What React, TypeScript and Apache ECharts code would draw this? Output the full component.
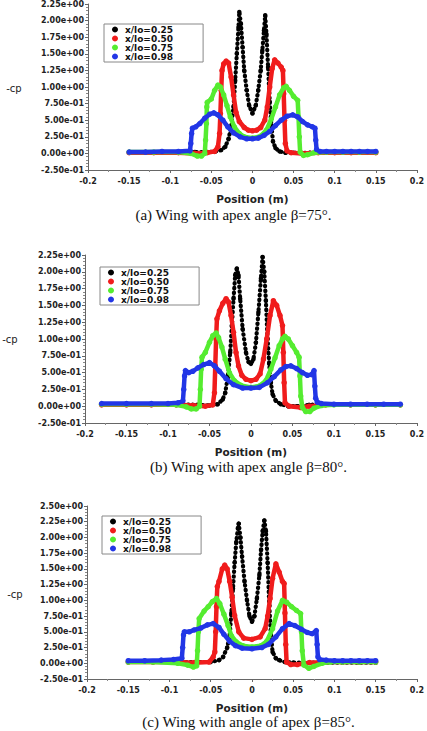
import React, { useEffect, useRef } from "react";
import * as echarts from "echarts";

const SERIES_NAMES = ["x/lo=0.25", "x/lo=0.50", "x/lo=0.75", "x/lo=0.98"];
const COLORS = ["#000000", "#f01c1c", "#55ec30", "#2236e6"];

const X_TICKS = ["-0.2", "-0.15", "-0.1", "-0.05", "0", "0.05", "0.1", "0.15", "0.2"];
const Y_TICKS_AB = ["-2.50e-01", "0.00e+00", "2.50e-01", "5.00e-01", "7.50e-01", "1.00e+00", "1.25e+00", "1.50e+00", "1.75e+00", "2.00e+00", "2.25e+00"];
const Y_TICKS_C = [...Y_TICKS_AB, "2.50e+00"];

const CAPTIONS = [
  "(a) Wing with apex angle β=75°.",
  "(b) Wing with apex angle β=80°.",
  "(c) Wing with angle of apex β=85°.",
];
const X_NAME = "Position (m)";
const Y_NAME = "-cp";

// Panel (a) β=75°
const A_025 = [[-0.15,0.02],[-0.13,0.02],[-0.11,0.02],[-0.09,0.02],[-0.07,0.02],[-0.055,0.02],[-0.045,0.03],[-0.038,0.05],[-0.033,0.1],[-0.029,0.22],[-0.026,0.4],[-0.023,0.7],[-0.021,1.1],[-0.019,1.5],[-0.017,1.9],[-0.016,2.13],[-0.014,1.95],[-0.012,1.6],[-0.01,1.25],[-0.007,0.95],[-0.004,0.72],[0,0.6],[0.004,0.72],[0.007,0.95],[0.01,1.25],[0.012,1.55],[0.014,1.85],[0.0155,2.08],[0.017,1.8],[0.019,1.3],[0.021,0.78],[0.023,0.42],[0.025,0.18],[0.028,0.08],[0.033,0.03],[0.04,0.01],[0.05,0.01],[0.07,0.01],[0.09,0.01],[0.11,0.01],[0.13,0.01],[0.15,0.01]];
const A_050 = [[-0.15,0.01],[-0.12,0.01],[-0.09,0.01],[-0.07,0.0],[-0.055,0.01],[-0.046,0.03],[-0.042,0.1],[-0.04,0.3],[-0.039,0.6],[-0.038,0.95],[-0.037,1.25],[-0.035,1.35],[-0.032,1.39],[-0.029,1.36],[-0.026,1.15],[-0.023,0.88],[-0.02,0.62],[-0.016,0.48],[-0.01,0.39],[-0.005,0.35],[0,0.34],[0.005,0.35],[0.01,0.39],[0.015,0.5],[0.018,0.7],[0.021,1.0],[0.024,1.28],[0.027,1.41],[0.031,1.36],[0.035,1.3],[0.037,1.25],[0.038,0.9],[0.039,0.5],[0.04,0.15],[0.042,0.04],[0.047,0.01],[0.06,0.0],[0.08,0.01],[0.1,0.01],[0.12,0.01],[0.15,0.01]];
const A_075 = [[-0.15,0.02],[-0.12,0.02],[-0.09,0.02],[-0.075,0.0],[-0.067,-0.04],[-0.062,-0.04],[-0.058,0.0],[-0.057,0.2],[-0.056,0.45],[-0.0555,0.7],[-0.055,0.77],[-0.05,0.82],[-0.046,0.95],[-0.042,1.03],[-0.039,1.0],[-0.035,0.88],[-0.031,0.72],[-0.027,0.55],[-0.022,0.4],[-0.016,0.3],[-0.01,0.25],[0,0.23],[0.01,0.26],[0.017,0.35],[0.023,0.52],[0.028,0.7],[0.033,0.88],[0.038,0.99],[0.041,1.01],[0.045,0.95],[0.05,0.86],[0.055,0.8],[0.056,0.55],[0.057,0.25],[0.058,0.02],[0.062,-0.03],[0.067,-0.02],[0.075,0.01],[0.09,0.02],[0.11,0.02],[0.13,0.02],[0.15,0.02]];
const A_098 = [[-0.15,0.02],[-0.13,0.02],[-0.11,0.03],[-0.09,0.03],[-0.076,0.04],[-0.075,0.15],[-0.074,0.3],[-0.073,0.38],[-0.069,0.4],[-0.064,0.45],[-0.058,0.53],[-0.052,0.59],[-0.047,0.61],[-0.042,0.58],[-0.036,0.5],[-0.03,0.4],[-0.023,0.31],[-0.015,0.25],[-0.007,0.22],[0,0.22],[0.007,0.23],[0.014,0.27],[0.021,0.33],[0.028,0.42],[0.035,0.5],[0.042,0.56],[0.049,0.58],[0.055,0.55],[0.061,0.48],[0.067,0.43],[0.073,0.4],[0.076,0.38],[0.077,0.2],[0.078,0.06],[0.082,0.03],[0.09,0.03],[0.1,0.03],[0.11,0.03],[0.12,0.03],[0.13,0.03],[0.14,0.03],[0.15,0.03]];

// Panel (b) β=80°
const B_025 = [[-0.18,0.03],[-0.15,0.03],[-0.12,0.03],[-0.09,0.03],[-0.065,0.02],[-0.05,0.01],[-0.04,0.03],[-0.034,0.1],[-0.031,0.2],[-0.028,0.43],[-0.025,0.8],[-0.023,1.2],[-0.021,1.6],[-0.019,1.95],[-0.017,2.05],[-0.015,1.95],[-0.013,1.6],[-0.01,1.15],[-0.006,0.8],[-0.003,0.66],[0,0.63],[0.003,0.7],[0.006,0.95],[0.009,1.4],[0.012,1.9],[0.014,2.22],[0.016,2.0],[0.018,1.57],[0.02,1.0],[0.022,0.63],[0.024,0.35],[0.026,0.18],[0.03,0.08],[0.036,0.03],[0.045,0.0],[0.055,0.0],[0.07,0.02],[0.09,0.03],[0.11,0.03],[0.13,0.03],[0.15,0.03],[0.18,0.03]];
const B_050 = [[-0.18,0.02],[-0.15,0.02],[-0.12,0.02],[-0.09,0.02],[-0.07,0.01],[-0.055,0.0],[-0.046,0.02],[-0.044,0.2],[-0.043,0.6],[-0.042,1.0],[-0.041,1.3],[-0.038,1.42],[-0.034,1.53],[-0.03,1.6],[-0.027,1.55],[-0.024,1.35],[-0.021,1.1],[-0.018,0.8],[-0.015,0.6],[-0.011,0.46],[-0.006,0.4],[0,0.38],[0.006,0.4],[0.011,0.48],[0.015,0.7],[0.019,1.0],[0.023,1.35],[0.027,1.57],[0.031,1.5],[0.035,1.35],[0.038,1.2],[0.039,0.8],[0.04,0.35],[0.041,0.05],[0.046,0.0],[0.06,-0.02],[0.07,0.0],[0.09,0.02],[0.12,0.02],[0.15,0.02],[0.18,0.02]];
const B_075 = [[-0.18,0.03],[-0.15,0.03],[-0.12,0.03],[-0.09,0.02],[-0.078,-0.01],[-0.072,-0.04],[-0.066,-0.04],[-0.062,0.0],[-0.061,0.25],[-0.06,0.55],[-0.059,0.73],[-0.055,0.8],[-0.05,0.95],[-0.046,1.05],[-0.042,1.09],[-0.039,1.02],[-0.035,0.88],[-0.031,0.7],[-0.026,0.5],[-0.02,0.38],[-0.012,0.31],[0,0.28],[0.01,0.3],[0.018,0.38],[0.024,0.55],[0.029,0.72],[0.034,0.9],[0.038,1.0],[0.041,1.04],[0.045,1.0],[0.05,0.9],[0.055,0.8],[0.058,0.73],[0.059,0.45],[0.06,0.15],[0.062,-0.02],[0.066,-0.08],[0.071,-0.08],[0.076,-0.03],[0.085,0.01],[0.1,0.02],[0.12,0.02],[0.15,0.02],[0.18,0.02]];
const B_098 = [[-0.18,0.04],[-0.15,0.04],[-0.12,0.04],[-0.1,0.04],[-0.088,0.05],[-0.082,0.08],[-0.081,0.25],[-0.08,0.45],[-0.079,0.53],[-0.075,0.5],[-0.07,0.52],[-0.064,0.57],[-0.057,0.62],[-0.05,0.65],[-0.044,0.6],[-0.038,0.52],[-0.03,0.41],[-0.021,0.32],[-0.01,0.27],[0,0.27],[0.01,0.28],[0.02,0.35],[0.028,0.44],[0.036,0.54],[0.042,0.59],[0.048,0.6],[0.055,0.56],[0.062,0.5],[0.068,0.46],[0.073,0.47],[0.076,0.53],[0.077,0.3],[0.078,0.12],[0.08,0.06],[0.085,0.04],[0.1,0.03],[0.12,0.03],[0.14,0.03],[0.16,0.03],[0.18,0.03]];

// Panel (c) β=85°
const C_025 = [[-0.15,0.02],[-0.12,0.02],[-0.09,0.02],[-0.065,0.02],[-0.05,0.02],[-0.04,0.05],[-0.035,0.1],[-0.03,0.25],[-0.027,0.44],[-0.025,0.8],[-0.023,1.19],[-0.021,1.6],[-0.019,1.93],[-0.017,2.15],[-0.016,2.22],[-0.014,2.0],[-0.012,1.7],[-0.009,1.3],[-0.006,1.0],[-0.003,0.75],[0,0.66],[0.003,0.75],[0.006,1.03],[0.009,1.4],[0.011,1.8],[0.013,2.1],[0.015,2.27],[0.017,2.1],[0.019,1.6],[0.021,0.92],[0.023,0.45],[0.025,0.18],[0.029,0.08],[0.033,0.05],[0.04,0.02],[0.05,0.01],[0.07,0.01],[0.09,0.01],[0.11,0.01],[0.13,0.01],[0.15,0.01]];
const C_050 = [[-0.15,0.02],[-0.12,0.02],[-0.09,0.02],[-0.07,0.01],[-0.052,0.02],[-0.047,0.1],[-0.045,0.18],[-0.044,0.5],[-0.043,0.9],[-0.042,1.22],[-0.04,1.3],[-0.036,1.5],[-0.033,1.56],[-0.03,1.5],[-0.027,1.3],[-0.024,1.05],[-0.021,0.76],[-0.016,0.5],[-0.01,0.4],[0,0.38],[0.01,0.42],[0.016,0.55],[0.019,0.75],[0.022,1.03],[0.025,1.35],[0.029,1.58],[0.033,1.45],[0.037,1.3],[0.039,1.27],[0.04,0.8],[0.041,0.3],[0.042,0.02],[0.047,-0.02],[0.055,-0.02],[0.07,0.01],[0.09,0.02],[0.11,0.02],[0.13,0.02],[0.15,0.02]];
const C_075 = [[-0.15,0.02],[-0.12,0.02],[-0.09,0.0],[-0.078,-0.03],[-0.071,-0.06],[-0.067,-0.04],[-0.066,0.2],[-0.065,0.5],[-0.064,0.71],[-0.058,0.83],[-0.053,0.9],[-0.048,0.98],[-0.043,1.03],[-0.039,0.95],[-0.034,0.78],[-0.029,0.6],[-0.025,0.44],[-0.019,0.34],[-0.011,0.28],[0,0.26],[0.011,0.28],[0.018,0.35],[0.025,0.55],[0.031,0.83],[0.037,1.0],[0.042,0.97],[0.048,0.9],[0.054,0.84],[0.059,0.79],[0.06,0.5],[0.061,0.2],[0.063,-0.03],[0.069,-0.08],[0.075,-0.05],[0.085,0.0],[0.095,0.02],[0.11,0.02],[0.13,0.02],[0.15,0.02]];
const C_098 = [[-0.15,0.04],[-0.13,0.04],[-0.11,0.05],[-0.095,0.06],[-0.085,0.08],[-0.084,0.25],[-0.083,0.45],[-0.082,0.5],[-0.076,0.5],[-0.07,0.53],[-0.062,0.56],[-0.054,0.61],[-0.047,0.63],[-0.04,0.57],[-0.034,0.46],[-0.027,0.35],[-0.02,0.28],[-0.012,0.24],[0,0.23],[0.012,0.25],[0.02,0.3],[0.029,0.42],[0.037,0.55],[0.045,0.63],[0.052,0.6],[0.06,0.54],[0.067,0.49],[0.073,0.47],[0.078,0.52],[0.079,0.3],[0.08,0.1],[0.082,0.06],[0.09,0.05],[0.1,0.04],[0.11,0.04],[0.12,0.04],[0.13,0.04],[0.14,0.04],[0.15,0.04]];

const PANEL_DATA = [
  [A_025, A_050, A_075, A_098],
  [B_025, B_050, B_075, B_098],
  [C_025, C_050, C_075, C_098],
];
const Y_MAX = [2.25, 2.25, 2.5];
const Y_LABELS = [Y_TICKS_AB, Y_TICKS_AB, Y_TICKS_C];

// layout (pixels)
const GRIDS = [
  { left: 88, top: 3, width: 329, height: 167 },
  { left: 85, top: 255, width: 332, height: 168 },
  { left: 87, top: 506, width: 331, height: 173 },
];
const LEGEND_POS = [
  { left: 104, top: 24 },
  { left: 100, top: 267 },
  { left: 102, top: 516 },
];
const CP_POS = [
  { x: 14, y: 88 },
  { x: 10, y: 339 },
  { x: 15, y: 594 },
];
const CAPTION_POS = [
  { x: 233.5, y: 215 },
  { x: 248.5, y: 467 },
  { x: 248.5, y: 722 },
];

export default function App() {
  const ref = useRef<HTMLDivElement>(null);
  useEffect(() => {
    if (!ref.current) return;
    const chart = echarts.init(ref.current, undefined, { renderer: "svg" });
    const sans = "DejaVu Sans";
    const grid = GRIDS.map((g) => ({ ...g, containLabel: false }));
    const xAxis = GRIDS.map((_, i) => ({
      type: "value",
      gridIndex: i,
      min: -0.2,
      max: 0.2,
      interval: 0.05,
      name: X_NAME,
      nameLocation: "middle",
      nameGap: 23,
      nameTextStyle: { fontFamily: sans, fontSize: 10.5, fontWeight: "bold", color: "#222" },
      axisLine: { show: true, onZero: false, lineStyle: { color: "#666", width: 1 } },
      axisTick: { show: true, length: 3, lineStyle: { color: "#666" } },
      minorTick: { show: true, splitNumber: 2, length: 2, lineStyle: { color: "#888" } },
      splitLine: { show: false },
      axisLabel: {
        fontFamily: sans,
        fontSize: 8,
        fontWeight: "bold",
        color: "#222",
        margin: 7,
        formatter: (v: number) => X_TICKS[Math.round((v + 0.2) / 0.05)] ?? "",
      },
    }));
    const yAxis = GRIDS.map((_, i) => ({
      type: "value",
      gridIndex: i,
      min: -0.25,
      max: Y_MAX[i],
      interval: 0.25,
      axisLine: { show: true, onZero: false, lineStyle: { color: "#666", width: 1 } },
      axisTick: { show: true, length: 3, lineStyle: { color: "#666" } },
      minorTick: { show: true, splitNumber: 5, length: 2, lineStyle: { color: "#888" } },
      splitLine: { show: false },
      axisLabel: {
        fontFamily: sans,
        fontSize: 8,
        fontWeight: "bold",
        color: "#222",
        margin: 4,
        formatter: (v: number) => Y_LABELS[i][Math.round((v + 0.25) / 0.25)] ?? "",
      },
    }));
    const series: any[] = [];
    PANEL_DATA.forEach((panel, p) => {
      panel.forEach((data, s) => {
        const isBlack = s === 0;
        series.push({
          type: "line",
          name: SERIES_NAMES[s],
          xAxisIndex: p,
          yAxisIndex: p,
          data,
          z: 2 + s,
          symbol: "circle",
          symbolSize: isBlack ? 4.5 : 5.5,
          showAllSymbol: true,
          itemStyle: { color: COLORS[s] },
          lineStyle: isBlack
            ? { color: COLORS[s], width: 4.2, type: [0.5, 4.3], cap: "round" }
            : { color: COLORS[s], width: 4.5 },
          emphasis: { disabled: true },
        });
      });
    });
    const legend = LEGEND_POS.map((pos) => ({
      ...pos,
      orient: "vertical",
      data: SERIES_NAMES.map((n) => ({ name: n, icon: "circle" })),
      itemWidth: 6,
      itemHeight: 6,
      itemGap: 0,
      padding: [1, 30, 1, 8],
      borderColor: "#888",
      borderWidth: 1,
      selectedMode: false,
      textStyle: { fontFamily: sans, fontSize: 9, fontWeight: "bold", color: "#111", lineHeight: 7.6, padding: [0, 0, 0, 2] },
    }));
    const graphic: any[] = [];
    CP_POS.forEach((pos) => {
      graphic.push({
        type: "text",
        x: pos.x,
        y: pos.y,
        style: { text: Y_NAME, fontFamily: sans, fontSize: 10, fill: "#222", align: "center", verticalAlign: "middle" },
      });
    });
    CAPTION_POS.forEach((pos, i) => {
      graphic.push({
        type: "text",
        x: pos.x,
        y: pos.y,
        style: { text: CAPTIONS[i], fontFamily: "Liberation Serif", fontSize: 15, fill: "#111", align: "center", verticalAlign: "middle" },
      });
    });
    chart.setOption({
      animation: false,
      backgroundColor: "#ffffff",
      grid,
      xAxis,
      yAxis,
      legend,
      series,
      graphic,
    });
    return () => chart.dispose();
  }, []);
  return (
    <div
      ref={ref}
      style={{ position: "absolute", left: 0, top: 0, width: 427, height: 731 }}
    />
  );
}
